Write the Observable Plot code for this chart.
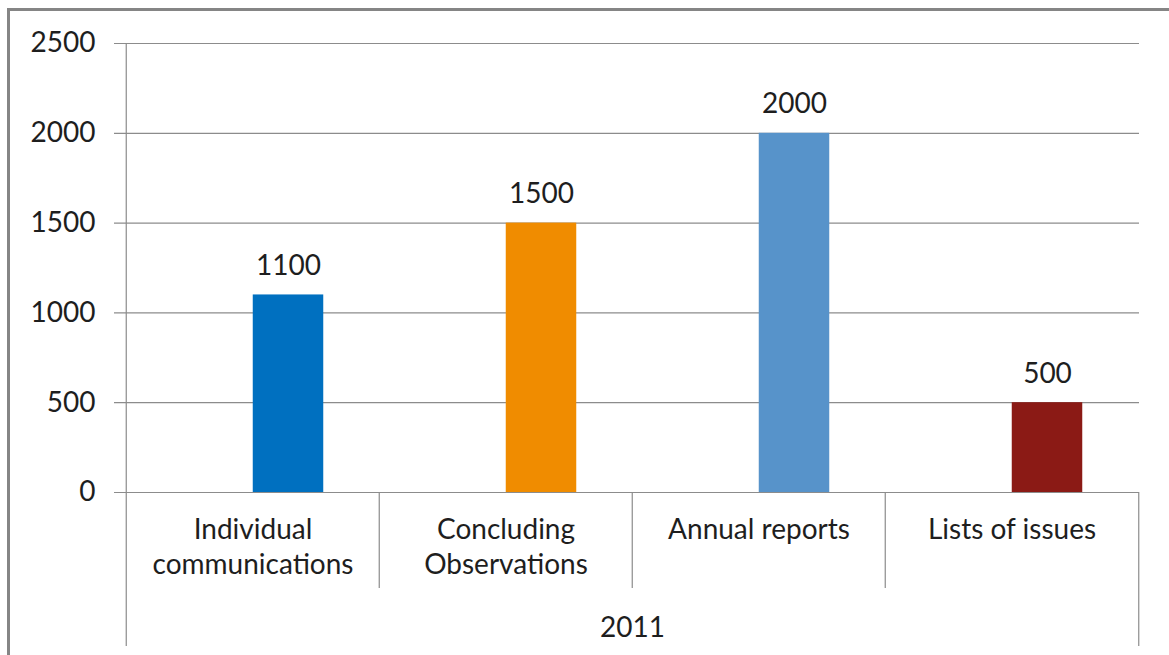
<!DOCTYPE html>
<html>
<head>
<meta charset="utf-8">
<script src="https://cdn.jsdelivr.net/npm/d3@7"></script>
<script src="https://cdn.jsdelivr.net/npm/@observablehq/plot@0.6"></script>
<style>
  html, body { margin: 0; padding: 0; background: #fff; overflow: hidden; }
  #wrap { position: relative; width: 1169px; height: 655px; }
  #border { position: absolute; left: 7px; top: 8px; width: 1200px; height: 700px;
            border-left: 3px solid #858585; border-top: 3px solid #858585; pointer-events: none; }
  #chart { position: absolute; left: 0; top: 0; }
</style>
</head>
<body>
<div id="wrap"><div id="chart"></div><div id="border"></div></div>
<script>
const categories = ["Individual communications", "Concluding Observations", "Annual reports", "Lists of issues"];
const categoryLabels = ["Individual\ncommunications", "Concluding\nObservations", "Annual reports", "Lists of issues"];
const values = [1100, 1500, 2000, 500];
const colors = ["#0070C0", "#F08C00", "#5793CA", "#8B1A15"];
const yTicks = [0, 500, 1000, 1500, 2000, 2500];
const groupLabel = "2011";

const data = categories.map((c, i) => ({category: c, label: categoryLabels[i], value: values[i]}));

const W = 1169, H = 655, mL = 125, mR = 30, mT = 43, mB = 163;
const bw = (W - mL - mR) / categories.length;
const barW = 71;
const frameH = H - mT - mB;
const lineColor = "#8c8c8c";
const textColor = "#1e1e1e";
const fs = 28;

const chart = Plot.plot({
  width: W, height: H,
  marginLeft: mL, marginRight: mR, marginTop: mT, marginBottom: mB,
  style: {fontFamily: "Lato, 'Open Sans', sans-serif", fontSize: fs + "px", color: textColor, background: "transparent", overflow: "visible"},
  x: {domain: categories, padding: 0, axis: null},
  y: {domain: [0, 2500], axis: null},
  color: {domain: categories, range: colors},
  marks: [
    Plot.gridY(yTicks, {stroke: lineColor, strokeOpacity: 1, strokeWidth: 1.2, insetLeft: -11}),
    Plot.axisY(yTicks, {label: null, tickSize: 0, tickPadding: 30, fontSize: fs, fill: textColor, tickFormat: d => String(d)}),
    Plot.ruleX([categories[0]], {dx: -bw / 2, insetBottom: -154, stroke: lineColor, strokeWidth: 1.2}),
    Plot.ruleX(categories.slice(1), {dx: -bw / 2, insetTop: frameH, insetBottom: -96, stroke: lineColor, strokeWidth: 1.2}),
    Plot.ruleX([categories[categories.length - 1]], {dx: bw / 2, insetTop: frameH, insetBottom: -154, stroke: lineColor, strokeWidth: 1.2}),
    Plot.barY(data, {x: "category", y: "value", fill: "category", insetLeft: bw / 2, insetRight: bw / 2 - barW}),
    Plot.text(data, {x: "category", y: "value", text: d => String(d.value), dx: barW / 2, dy: -29, lineAnchor: "middle", fill: textColor, fontSize: fs}),
    Plot.text(data, {x: "category", text: "label", frameAnchor: "bottom", lineAnchor: "top", dy: 22, lineHeight: 35 / fs, fill: textColor, fontSize: fs, style: "letter-spacing: 1px"}),
    Plot.text([groupLabel], {frameAnchor: "bottom", lineAnchor: "top", dy: 125, fill: textColor, fontSize: fs})
  ]
});
chart.querySelectorAll("text").forEach(t => {});
document.getElementById("chart").appendChild(chart);
</script>
</body>
</html>
